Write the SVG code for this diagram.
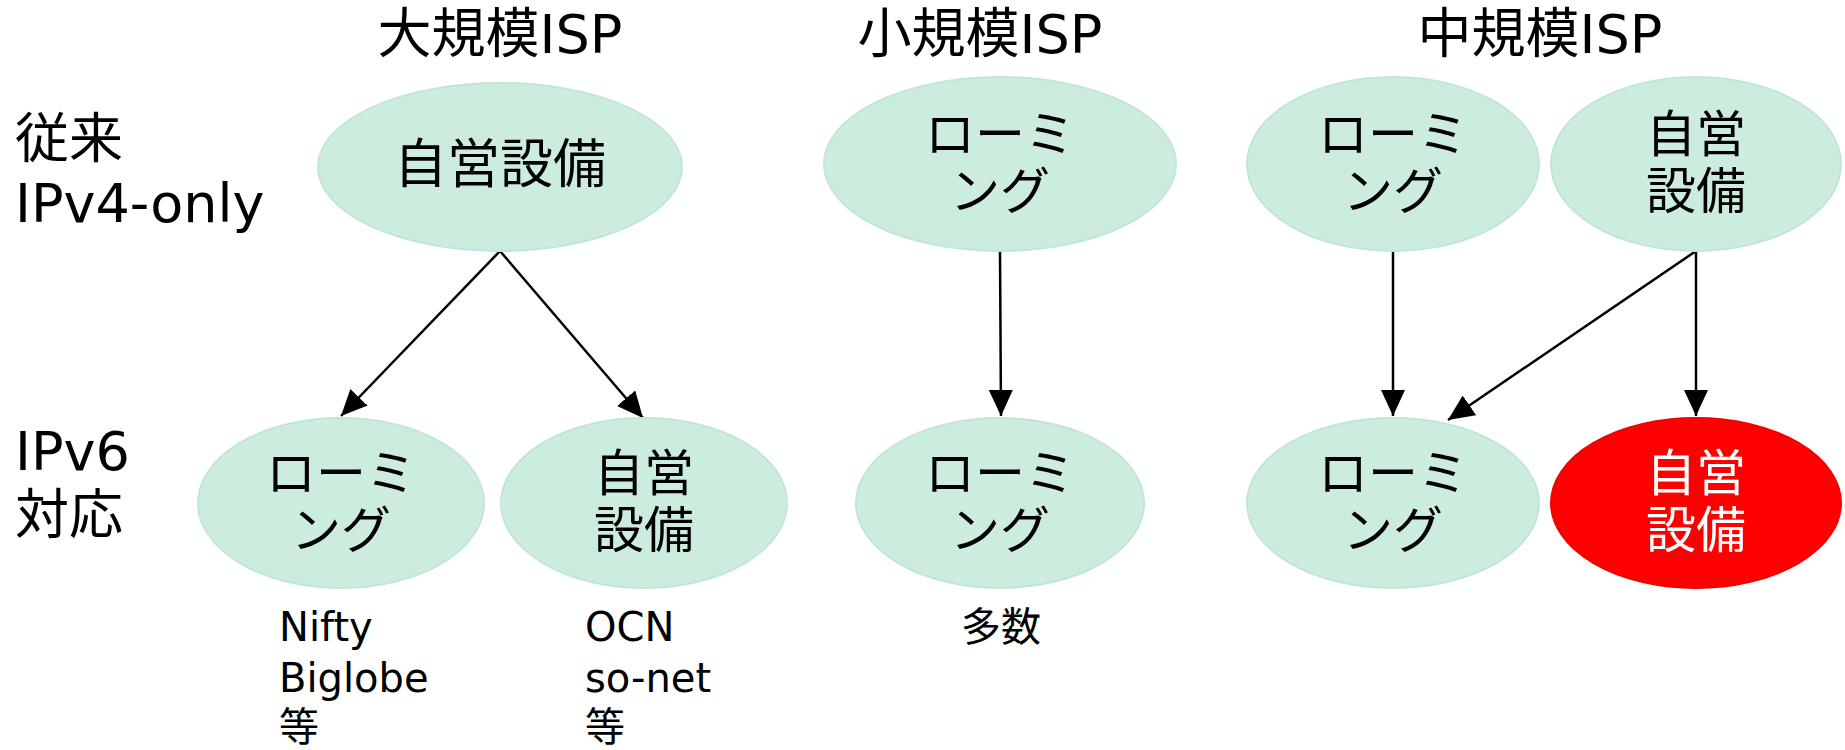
<svg xmlns="http://www.w3.org/2000/svg" width="1845" height="750" viewBox="0 0 1845 750">
<style>
.t{font-family:"DejaVu Sans","Noto Sans CJK JP",sans-serif;fill:#000}
.h{font-size:54px;text-anchor:middle}
.r{font-size:54px}
.n{font-size:50px;text-anchor:middle}
.s{font-size:40px}
.e{fill:#CCEDDE;stroke:#C2E6D5;stroke-width:2}
.red{fill:#FF0000;stroke:#F20000;stroke-width:2}
.w{fill:#fff}
.c{stroke:#000;stroke-width:2.5;fill:none;marker-end:url(#ah)}
</style>
<defs>
<marker id="ah" markerUnits="userSpaceOnUse" markerWidth="26" markerHeight="24" refX="26" refY="12" orient="auto" viewBox="0 0 26 24">
<path d="M0,0 L26,12 L0,24 z" fill="#000"/>
</marker>
</defs>
<rect width="1845" height="750" fill="#fff"/>
<g id="titles">
<text class="t h" x="500" y="53">大規模ISP</text>
<text class="t h" x="980" y="53">小規模ISP</text>
<text class="t h" x="1540" y="53">中規模ISP</text>
</g>
<g id="row-labels">
<text class="t r" x="15" y="158">従来</text>
<text class="t r" x="15" y="222">IPv4-only</text>
<text class="t r" x="15" y="470">IPv6</text>
<text class="t r" x="15" y="534">対応</text>
</g>
<g id="connectors">
<line class="c" x1="500" y1="251" x2="341" y2="416"/>
<line class="c" x1="500" y1="251" x2="643" y2="418"/>
<line class="c" x1="1000" y1="251" x2="1001" y2="416"/>
<line class="c" x1="1393" y1="251" x2="1393" y2="416"/>
<line class="c" x1="1696" y1="251" x2="1448" y2="420"/>
<line class="c" x1="1696" y1="251" x2="1696" y2="416"/>
</g>
<g id="large-v4">
<ellipse class="e" cx="500" cy="167" rx="182" ry="84"/>
<text class="t n" x="500" y="183" style="font-size:53px">自営設備</text>
</g>
<g id="large-v6-roaming">
<ellipse class="e" cx="341" cy="503" rx="143" ry="85"/>
<text class="t n" x="341" y="491">ローミ</text>
<text class="t n" x="341" y="548">ング</text>
</g>
<g id="large-v6-own">
<ellipse class="e" cx="644" cy="503" rx="143" ry="85"/>
<text class="t n" x="644" y="491">自営</text>
<text class="t n" x="644" y="548">設備</text>
</g>
<g id="small-v4">
<ellipse class="e" cx="1000" cy="164" rx="176" ry="87"/>
<text class="t n" x="1000" y="152">ローミ</text>
<text class="t n" x="1000" y="209">ング</text>
</g>
<g id="small-v6">
<ellipse class="e" cx="1000" cy="503" rx="144" ry="85"/>
<text class="t n" x="1000" y="491">ローミ</text>
<text class="t n" x="1000" y="548">ング</text>
</g>
<g id="mid-v4-roaming">
<ellipse class="e" cx="1393" cy="164" rx="146" ry="87"/>
<text class="t n" x="1393" y="152">ローミ</text>
<text class="t n" x="1393" y="209">ング</text>
</g>
<g id="mid-v4-own">
<ellipse class="e" cx="1696" cy="164" rx="145" ry="87"/>
<text class="t n" x="1696" y="152">自営</text>
<text class="t n" x="1696" y="209">設備</text>
</g>
<g id="mid-v6-roaming">
<ellipse class="e" cx="1393" cy="503" rx="146" ry="85"/>
<text class="t n" x="1393" y="491">ローミ</text>
<text class="t n" x="1393" y="548">ング</text>
</g>
<g id="mid-v6-own">
<ellipse class="red" cx="1696" cy="503" rx="145" ry="85"/>
<text class="t n w" x="1696" y="491">自営</text>
<text class="t n w" x="1696" y="548">設備</text>
</g>
<g id="notes">
<text class="t s" x="279" y="641">Nifty</text>
<text class="t s" x="279" y="692">Biglobe</text>
<text class="t s" x="279" y="741">等</text>
<text class="t s" x="585" y="641">OCN</text>
<text class="t s" x="585" y="692">so-net</text>
<text class="t s" x="585" y="741">等</text>
<text class="t s" x="1001" y="641" text-anchor="middle">多数</text>
</g>
</svg>
